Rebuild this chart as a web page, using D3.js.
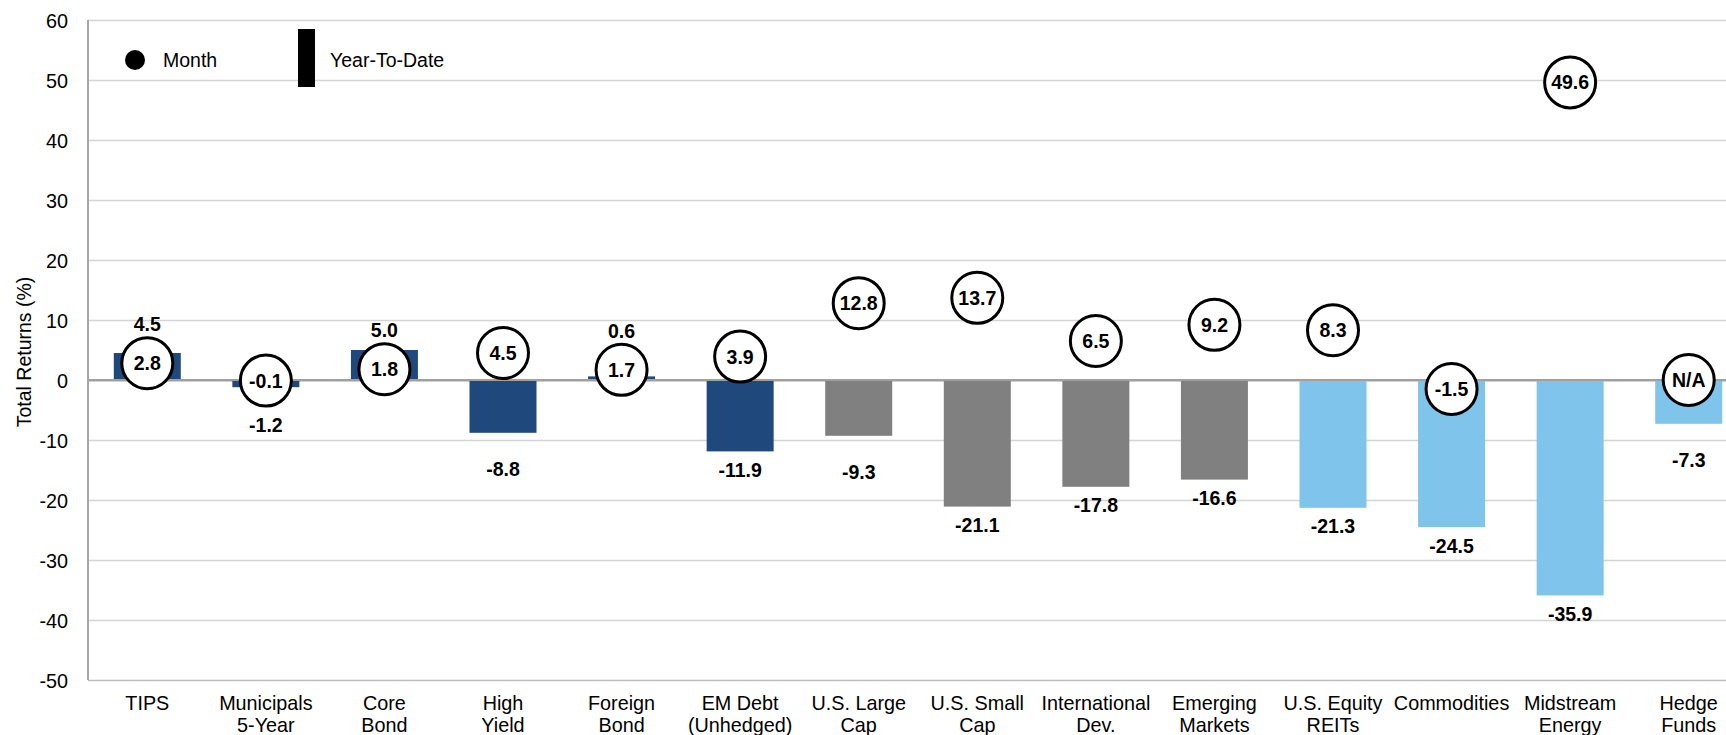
<!DOCTYPE html>
<html>
<head>
<meta charset="utf-8">
<script src="https://cdn.jsdelivr.net/npm/d3@7"></script>
<style>
  html, body { margin: 0; padding: 0; background: #fff; overflow: hidden; }
  svg { display: block; font-family: "Liberation Sans", Arial, Helvetica, sans-serif; }
</style>
</head>
<body>
<svg id="chart" width="1726" height="735"></svg>
<script>
// ---------- data ----------
const categories = ["TIPS", "Municipals 5-Year", "Core Bond", "High Yield", "Foreign Bond", "EM Debt (Unhedged)",
  "U.S. Large Cap", "U.S. Small Cap", "International Dev.", "Emerging Markets", "U.S. Equity REITs",
  "Commodities", "Midstream Energy", "Hedge Funds"];
const categoryLines = [["TIPS"], ["Municipals", "5-Year"], ["Core", "Bond"], ["High", "Yield"], ["Foreign", "Bond"],
  ["EM Debt", "(Unhedged)"], ["U.S. Large", "Cap"], ["U.S. Small", "Cap"], ["International", "Dev."],
  ["Emerging", "Markets"], ["U.S. Equity", "REITs"], ["Commodities"], ["Midstream", "Energy"], ["Hedge", "Funds"]];
const ytdValues = [4.5, -1.2, 5.0, -8.8, 0.6, -11.9, -9.3, -21.1, -17.8, -16.6, -21.3, -24.5, -35.9, -7.3];
const monthValues = [2.8, -0.1, 1.8, 4.5, 1.7, 3.9, 12.8, 13.7, 6.5, 9.2, 8.3, -1.5, 49.6, null];
const assetGroups = ["fixed", "fixed", "fixed", "fixed", "fixed", "fixed", "equity", "equity", "equity", "equity",
  "real", "real", "real", "real"];
const yTicks = [60, 50, 40, 30, 20, 10, 0, -10, -20, -30, -40, -50];
const legendLabels = ["Month", "Year-To-Date"];
const yTitle = "Total Returns (%)";

// ---------- styles ----------
const groupColor = { fixed: "#1F497D", equity: "#808080", real: "#7FC4EB" };
const W = 1726, H = 735;
const plot = { left: 88, right: 1748, top: 20, bottom: 680 };

const svg = d3.select("#chart");

const x = d3.scaleBand().domain(categories).range([plot.left, plot.right])
  .paddingInner(0.435).paddingOuter(0.2175);
const y = d3.scaleLinear().domain([-50, 60]).range([plot.bottom, plot.top]);

// gridlines
const grid = d3.axisLeft(y).tickValues(yTicks).tickSize(-(plot.right - plot.left)).tickFormat("");
svg.append("g").attr("transform", `translate(${plot.left},0)`).call(grid)
  .call(g => g.select(".domain").remove())
  .call(g => g.selectAll(".tick line").attr("stroke", d => d === 0 ? "#a0a0a0" : (d === -50 ? "#bdbdbd" : "#d4d4d4"))
    .attr("stroke-width", d => d === 0 ? 2 : 1.5));

// tick labels (plain hyphen minus, as in the reference)
const yAxis = d3.axisLeft(y).tickValues(yTicks).tickSize(0).tickPadding(20).tickFormat(d => String(d));
svg.append("g").attr("transform", `translate(${plot.left},0)`).call(yAxis)
  .call(g => g.select(".domain").remove())
  .call(g => g.selectAll("text").attr("font-size", "19.8px").attr("fill", "#000")
    .attr("font-family", "'Liberation Sans', Arial, sans-serif").attr("dy", "0.36em"));

// bars
const idx = d3.range(categories.length);
svg.append("g").selectAll("rect").data(idx).join("rect")
  .attr("x", i => x(categories[i]))
  .attr("width", x.bandwidth())
  .attr("y", i => y(Math.max(0, ytdValues[i])))
  .attr("height", i => Math.abs(y(ytdValues[i]) - y(0)))
  .attr("fill", i => groupColor[assetGroups[i]]);

// zero line on top of bars
svg.append("line").attr("x1", plot.left).attr("x2", plot.right).attr("y1", y(0)).attr("y2", y(0))
  .attr("stroke", "#a0a0a0").attr("stroke-width", 2);

// left axis line
svg.append("line").attr("x1", plot.left).attr("x2", plot.left).attr("y1", plot.top).attr("y2", plot.bottom)
  .attr("stroke", "#a6a6a6").attr("stroke-width", 2);

// YTD value labels
const R = 25.5;
const cx = i => x(categories[i]) + x.bandwidth() / 2;
const monthY = i => y(monthValues[i] === null ? 0 : monthValues[i]);
function labelCenter(i) {
  const v = ytdValues[i];
  if (v >= 0) {
    return Math.min(y(v), monthY(i) - R - 1.5) - 12;
  }
  let c = y(v) + 18.5;
  const circleBottom = monthY(i) + R + 1.5;
  if (circleBottom > y(v) - 10) c = Math.max(c, circleBottom + 17);
  if (v < -5 && v > -10) c += 18;
  return c;
}
svg.append("g").selectAll("text").data(idx).join("text")
  .attr("x", cx)
  .attr("y", i => labelCenter(i) + 7)
  .attr("text-anchor", "middle")
  .attr("font-size", "19.5px").attr("font-weight", "bold").attr("fill", "#000")
  .text(i => ytdValues[i].toFixed(1));

// month circles
const circ = svg.append("g").selectAll("g").data(idx).join("g")
  .attr("transform", i => `translate(${cx(i)},${monthY(i)})`);
circ.append("circle").attr("r", R).attr("fill", "#fff").attr("stroke", "#000").attr("stroke-width", 3);
circ.append("text").attr("text-anchor", "middle").attr("y", 7)
  .attr("font-size", "19.5px").attr("font-weight", "bold").attr("fill", "#000")
  .text(i => monthValues[i] === null ? "N/A" : monthValues[i].toFixed(1));

// category labels
const cat = svg.append("g").selectAll("text").data(idx).join("text")
  .attr("text-anchor", "middle").attr("font-size", "19.8px").attr("fill", "#000");
cat.selectAll("tspan").data(i => categoryLines[i].map(t => ({ t, i }))).join("tspan")
  .attr("x", d => cx(d.i))
  .attr("y", (d, k) => 709.5 + k * 22.4)
  .text(d => d.t);

// y title
svg.append("text").attr("transform", `translate(31,352) rotate(-90)`)
  .attr("text-anchor", "middle").attr("font-size", "19.5px").attr("fill", "#000")
  .text(yTitle);

// legend
const lg = svg.append("g");
lg.append("circle").attr("cx", 135).attr("cy", 60).attr("r", 10).attr("fill", "#000");
lg.append("text").attr("x", 163).attr("y", 67).attr("font-size", "19.5px").attr("fill", "#000").text(legendLabels[0]);
lg.append("rect").attr("x", 298).attr("y", 29).attr("width", 17).attr("height", 58).attr("fill", "#000");
lg.append("text").attr("x", 330).attr("y", 67).attr("font-size", "19.5px").attr("fill", "#000").text(legendLabels[1]);
</script>
</body>
</html>
